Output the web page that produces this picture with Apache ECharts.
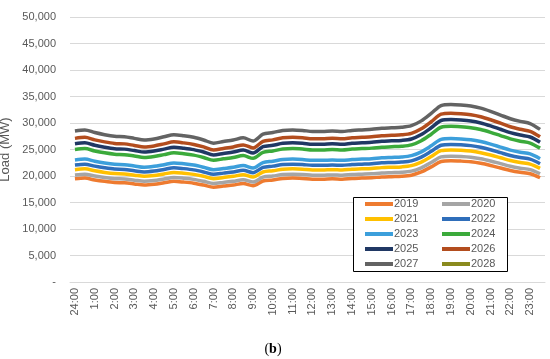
<!DOCTYPE html>
<html>
<head>
<meta charset="utf-8">
<script src="https://cdn.jsdelivr.net/npm/echarts@6/dist/echarts.min.js"></script>
<style>html,body{margin:0;padding:0;background:#fff}#c{width:550px;height:359px}</style>
</head>
<body>
<div id="c"></div>
<script>
const categories = ["24:00","0:30","1:00","1:30","2:00","2:30","3:00","3:30","4:00","4:30","5:00","5:30","6:00","6:30","7:00","7:30","8:00","8:30","9:00","9:30","10:00","10:30","11:00","11:30","12:00","12:30","13:00","13:30","14:00","14:30","15:00","15:30","16:00","16:30","17:00","17:30","18:00","18:30","19:00","19:30","20:00","20:30","21:00","21:30","22:00","22:30","23:00","23:30"];
const years = ["2019","2020","2021","2022","2023","2024","2025","2026","2027","2028"];
const load2019 = [19470,19600,19260,18990,18780,18710,18510,18300,18440,18710,18990,18850,18650,18300,17890,18100,18300,18580,18170,19060,19260,19530,19600,19530,19400,19400,19470,19400,19530,19600,19670,19810,19880,19940,20150,20760,21720,22740,22880,22810,22680,22400,21990,21510,21040,20690,20420,19670];
const load2020 = [20210,20350,19990,19710,19500,19430,19210,19000,19140,19430,19710,19570,19360,19000,18580,18790,19000,19280,18860,19780,19990,20280,20350,20280,20140,20140,20210,20140,20280,20350,20420,20560,20630,20700,20920,21550,22550,23610,23750,23680,23540,23260,22830,22330,21840,21480,21200,20420];
const load2021 = [21200,21350,20980,20680,20460,20390,20160,19940,20090,20390,20680,20530,20310,19940,19490,19720,19940,20240,19790,20760,20980,21280,21350,21280,21130,21130,21200,21130,21280,21350,21430,21580,21650,21720,21950,22620,23660,24780,24920,24850,24700,24400,23960,23440,22920,22540,22250,21430];
const load2022 = [22090,22240,21860,21550,21310,21240,21000,20770,20930,21240,21550,21390,21160,20770,20310,20540,20770,21080,20620,21620,21860,22170,22240,22170,22010,22010,22090,22010,22170,22240,22320,22480,22550,22630,22860,23560,24650,25810,25960,25890,25730,25420,24960,24410,23870,23480,23170,22320];
const load2023 = [23030,23190,22790,22460,22220,22140,21900,21650,21820,22140,22460,22300,22060,21650,21170,21410,21650,21980,21490,22540,22790,23110,23190,23110,22950,22950,23030,22950,23110,23190,23270,23430,23510,23590,23840,24560,25690,26910,27070,26990,26830,26500,26020,25450,24890,24480,24160,23270];
const load2024 = [24990,25170,24730,24380,24120,24030,23770,23500,23680,24030,24380,24210,23940,23500,22980,23240,23500,23850,23330,24470,24730,25080,25170,25080,24910,24910,24990,24910,25080,25170,25260,25430,25520,25610,25870,26660,27890,29200,29380,29290,29120,28770,28240,27630,27010,26570,26220,25260];
const load2025 = [26080,26260,25800,25440,25160,25070,24800,24520,24710,25070,25440,25250,24980,24520,23970,24250,24520,24890,24340,25530,25800,26170,26260,26170,25990,25990,26080,25990,26170,26260,26350,26540,26630,26720,26990,27820,29100,30470,30650,30560,30380,30010,29460,28820,28180,27720,27360,26350];
const load2026 = [27100,27290,26820,26440,26150,26060,25770,25490,25680,26060,26440,26250,25960,25490,24920,25200,25490,25870,25300,26530,26820,27200,27290,27200,27010,27010,27100,27010,27200,27290,27390,27580,27670,27770,28050,28910,30240,31670,31860,31760,31570,31190,30620,29960,29290,28820,28430,27390];
const load2027 = [28500,28700,28200,27800,27500,27400,27100,26800,27000,27400,27800,27600,27300,26800,26200,26500,26800,27200,26600,27900,28200,28600,28700,28600,28400,28400,28500,28400,28600,28700,28800,29000,29100,29200,29500,30400,31800,33300,33500,33400,33200,32800,32200,31500,30800,30300,29900,28800];
const load2028 = [];
const yTicks = [0,5000,10000,15000,20000,25000,30000,35000,40000,45000,50000];

const seriesData = [load2019,load2020,load2021,load2022,load2023,load2024,load2025,load2026,load2027,load2028];
const colors = ["#EE7B30","#A5A5A5","#FFC000","#2F6EBA","#3C9FDB","#3BAA3B","#203864","#B34D1E","#636363","#8A8A1E"];

const chart = echarts.init(document.getElementById('c'));
const legendCommon = {
  orient: 'vertical', padding: 0, itemWidth: 28, itemHeight: 4, itemGap: 1, icon: 'rect',
  textStyle: {color: '#595959', fontSize: 11, fontFamily: 'Liberation Sans', lineHeight: 14, padding: [0,0,0,-4]}
};
chart.setOption({
  animation: false,
  color: colors,
  grid: {left: 70, right: 5, top: 17, bottom: 77, containLabel: false, outerBoundsMode: 'none'},
  legend: [
    Object.assign({left: 365, top: 197, data: ["2019","2021","2023","2025","2027"]}, legendCommon),
    Object.assign({left: 442, top: 197, data: ["2020","2022","2024","2026","2028"]}, legendCommon)
  ],
  graphic: [
    {type: 'rect', shape: {x: 353.5, y: 197.5, width: 154, height: 74}, style: {fill: '#fff', stroke: '#000', lineWidth: 1}, z: 3},
    {type: 'text', x: 273, y: 349, style: {text: '{a|(}{b|b}{a|)}', rich: {a: {fontFamily: 'Liberation Serif', fontSize: 14, fill: '#000'}, b: {fontFamily: 'Liberation Serif', fontSize: 14, fontWeight: 'bold', fill: '#000'}}, textAlign: 'center', textVerticalAlign: 'middle'}}
  ],
  xAxis: {
    type: 'category', data: categories, boundaryGap: true,
    axisLine: {lineStyle: {color: '#D9D9D9'}}, axisTick: {show: false},
    axisLabel: {interval: 1, rotate: 90, margin: 6, color: '#595959', fontSize: 11, fontFamily: 'Liberation Sans'}
  },
  yAxis: {
    type: 'value', min: yTicks[0], max: yTicks[yTicks.length-1], interval: 5000,
    name: 'Load (MW)', nameLocation: 'middle', nameGap: 57,
    nameTextStyle: {color: '#595959', fontSize: 13, fontFamily: 'Liberation Sans'},
    axisLine: {show: false}, axisTick: {show: false},
    splitLine: {lineStyle: {color: '#D9D9D9'}},
    axisLabel: {color: '#595959', fontSize: 11, fontFamily: 'Liberation Sans', margin: 14,
      formatter: v => v === 0 ? '-' : v.toLocaleString('en-US')}
  },
  series: years.map((y, i) => ({
    name: y, type: 'line', data: seriesData[i], showSymbol: false, symbol: 'none',
    smooth: 0.3, lineStyle: {width: 3.5, color: colors[i]}, itemStyle: {color: colors[i]}
  }))
});
</script>
</body>
</html>
